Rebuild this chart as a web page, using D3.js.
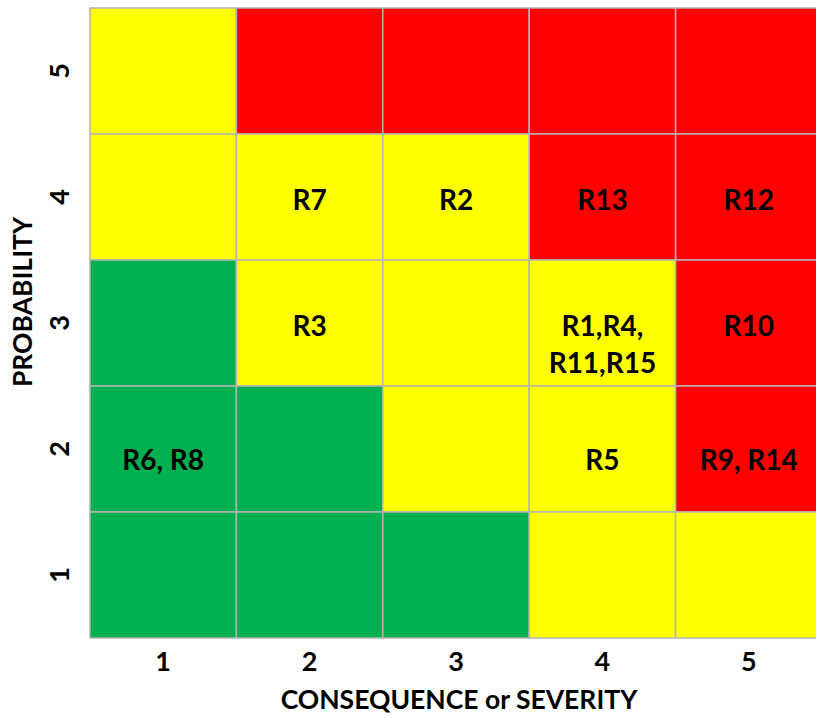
<!DOCTYPE html>
<html>
<head>
<meta charset="utf-8">
<script src="https://cdn.jsdelivr.net/npm/d3@7"></script>
<style>
	body { margin: 0; background: #fff; }
	text { font-family: Lato, "Open Sans", sans-serif; font-weight: bold; fill: #000; }
</style>
</head>
<body>
<script>
let severity = [1, 2, 3, 4, 5]
let probability = [1, 2, 3, 4, 5]

// zone of each cell, rows from probability 5 down to 1
let zones = [
	['Y', 'R', 'R', 'R', 'R'],
	['Y', 'Y', 'Y', 'R', 'R'],
	['G', 'Y', 'Y', 'Y', 'R'],
	['G', 'G', 'Y', 'Y', 'R'],
	['G', 'G', 'G', 'Y', 'Y']
]
let zoneColors = {G: '#00b050', Y: '#ffff00', R: '#ff0000'}

let risks = [
	{p: 4, s: 2, lines: ['R7']},
	{p: 4, s: 3, lines: ['R2']},
	{p: 4, s: 4, lines: ['R13']},
	{p: 4, s: 5, lines: ['R12']},
	{p: 3, s: 2, lines: ['R3']},
	{p: 3, s: 4, lines: ['R1,R4,', 'R11,R15']},
	{p: 3, s: 5, lines: ['R10']},
	{p: 2, s: 1, lines: ['R6, R8']},
	{p: 2, s: 4, lines: ['R5']},
	{p: 2, s: 5, lines: ['R9, R14']}
]

let xTitle = 'CONSEQUENCE or SEVERITY'
let yTitle = 'PROBABILITY'

let W = 816, H = 719
let fs = '27px'
let svg = d3.select('body').append('svg').attr('width', W).attr('height', H)

let x = d3.scaleBand().domain(severity).range([90, 822])
let y = d3.scaleBand().domain(probability.slice().reverse()).range([8, 638])

let cells = []
zones.forEach((row, i) => {
	row.forEach((z, j) => {
		cells.push({p: probability[probability.length-1-i], s: severity[j], z: z})
	})
})

svg.append('g').selectAll('rect').data(cells).join('rect')
	.attr('x', d => x(d.s)).attr('y', d => y(d.p))
	.attr('width', x.bandwidth()).attr('height', y.bandwidth())
	.attr('fill', d => zoneColors[d.z])
	.attr('stroke', '#b4b4b4').attr('stroke-width', 1.5)

let lab = svg.append('g').selectAll('text').data(risks).join('text')
	.attr('x', d => x(d.s) + x.bandwidth()/2)
	.attr('y', d => y(d.p) + y.bandwidth()/2 + (d.p == 2 ? 14 : 6))
	.attr('text-anchor', 'middle')
	.attr('dominant-baseline', 'middle')
	.style('font-size', '28px')
lab.selectAll('tspan').data(d => d.lines).join('tspan')
	.attr('x', function() { return this.parentNode.getAttribute('x') })
	.attr('dy', (d, i) => i == 0 ? 0 : 37)
	.text(d => d)

// x axis
let xAxis = d3.axisBottom(x).tickSize(0).tickPadding(14)
let gx = svg.append('g').attr('transform', 'translate(0,638)').call(xAxis)
gx.select('.domain').remove()
gx.selectAll('text').style('font-size', fs).style('font-family', null).attr('dy', '0.71em')
gx.attr('font-family', null).attr('font-size', null)

// y axis with rotated labels
let gy = svg.append('g')
gy.selectAll('text').data(probability).join('text')
	.attr('transform', d => `translate(62,${y(d) + y.bandwidth()/2}) rotate(-90)`)
	.attr('text-anchor', 'middle')
	.attr('dominant-baseline', 'middle')
	.style('font-size', fs)
	.text(d => d)

svg.append('text')
	.attr('x', 459).attr('y', 702)
	.attr('text-anchor', 'middle').attr('dominant-baseline', 'middle')
	.style('font-size', '26.5px')
	.text(xTitle)

svg.append('text')
	.attr('transform', 'translate(25,302) rotate(-90)')
	.attr('text-anchor', 'middle').attr('dominant-baseline', 'middle')
	.style('font-size', '26.5px')
	.text(yTitle)
</script>
</body>
</html>
